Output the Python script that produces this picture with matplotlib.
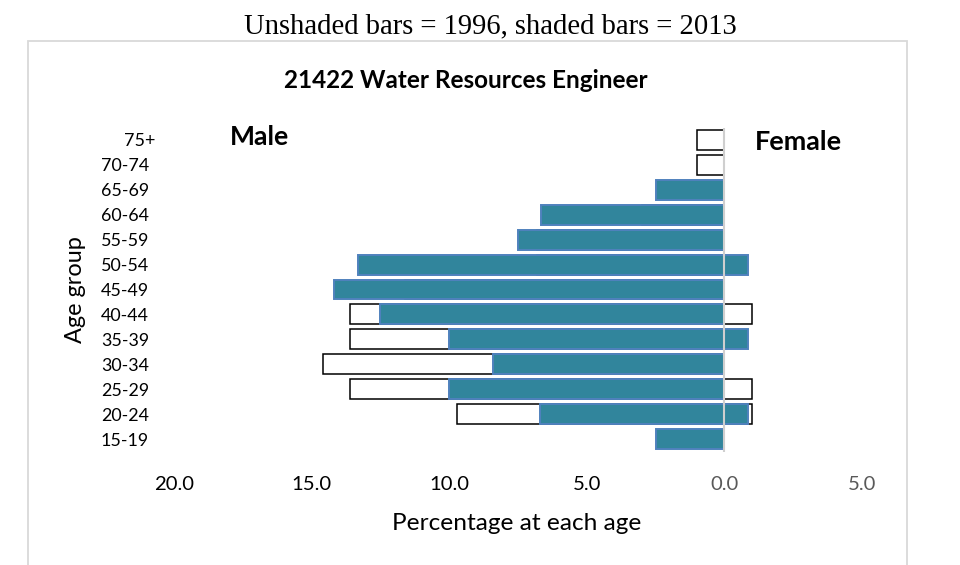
import matplotlib
matplotlib.use('Agg')
import matplotlib.pyplot as plt
import numpy as np
from matplotlib.patches import Rectangle
from matplotlib.transforms import ScaledTranslation

# ---------------- data ----------------
ages = ['15-19', '20-24', '25-29', '30-34', '35-39', '40-44', '45-49',
        '50-54', '55-59', '60-64', '65-69', '70-74', '75+']
male_1996 = [0, 9.7, 13.6, 14.6, 13.6, 13.6, 11.6, 6.8, 6.8, 3.0, 0, 1.0, 1.0]
female_1996 = [0, 1.0, 1.0, 0, 0, 1.0, 0, 0, 0, 0, 0, 0, 0]
male_2013 = [2.5, 6.7, 10.0, 8.4, 10.0, 12.5, 14.2, 13.3, 7.5, 6.65, 2.5, 0, 0]
female_2013 = [0, 0.87, 0, 0, 0.87, 0, 0, 0.87, 0, 0, 0, 0, 0]
xticks = [-20, -15, -10, -5, 0, 5]
xtick_labels = ['20.0', '15.0', '10.0', '5.0', '0.0', '5.0']

TEAL = '#31859C'
BLUE = '#4F81BD'
GRAY = '#595959'
SANS = ['Lato', 'DejaVu Sans']
SERIF = ['Liberation Serif', 'DejaVu Serif']
W, H = 960, 565

fig = plt.figure(figsize=(W / 100, H / 100), dpi=100)
ax = fig.add_axes([174 / W, 1 - 451.5 / H, 688 / W, 324 / H])

y = np.arange(len(ages))


def draw(vals, sign, **kw):
    v = np.array(vals, dtype=float)
    m = v > 0
    ax.barh(y[m], sign * v[m], height=0.8, **kw)


draw(male_1996, -1, color='white', edgecolor='black', linewidth=1.1, zorder=2)
draw(female_1996, 1, color='white', edgecolor='black', linewidth=1.1, zorder=2)
draw(male_2013, -1, color=TEAL, edgecolor=BLUE, linewidth=1.4, zorder=3)
draw(female_2013, 1, color=TEAL, edgecolor=BLUE, linewidth=1.4, zorder=3)
ax.axvline(0, color='#CFCFCF', linewidth=1.5, zorder=4)

ax.set_xlim(-20, 5)
ax.set_ylim(-0.5, 12.5)
for s in ax.spines.values():
    s.set_visible(False)
ax.set_xticks(xticks, xtick_labels)
ax.set_yticks(y, ages)
ax.tick_params(length=0)
for lab in ax.get_xticklabels() + ax.get_yticklabels():
    lab.set_family(SANS)
for lab in ax.get_xticklabels()[4:]:
    lab.set_color(GRAY)

# outer chart box
fig.patches.append(Rectangle((28 / W, -0.1), (907 - 28) / W, (H - 41) / H + 0.1,
                             transform=fig.transFigure, fill=False,
                             edgecolor='#D9D9D9', linewidth=1.3))

# texts
top = fig.text(490 / W, 1 - 26 / H, 'Unshaded bars = 1996, shaded bars = 2013',
               ha='center', va='center', family=SERIF, fontsize=14)
title = fig.text(466 / W, 1 - 80 / H, '21422 Water Resources Engineer',
                 ha='center', va='center', family=SANS, fontweight='bold', fontsize=13)
male = fig.text(260 / W, 1 - 137 / H, 'Male', ha='center', va='center',
                family=SANS, fontweight='bold', fontsize=14)
female = fig.text(798 / W, 1 - 142 / H, 'Female', ha='center', va='center',
                  family=SANS, fontweight='bold', fontsize=14)
xl = fig.text(517 / W, 1 - 523 / H, 'Percentage at each age', ha='center',
              va='center', family=SANS, fontsize=13)
yl = fig.text(75 / W, 1 - 290 / H, 'Age group', ha='center', va='center',
              rotation=90, family=SANS, fontsize=13)


def fit(t, target, use_h=False):
    for _ in range(3):
        fig.canvas.draw()
        bb = t.get_window_extent()
        cur = bb.height if use_h else bb.width
        t.set_fontsize(t.get_fontsize() * target / cur)


fit(top, 494)
fit(title, 363)
fit(male, 59)
fit(female, 87)
fit(xl, 249)
fit(yl, 107, use_h=True)

# tick label sizes
for _ in range(3):
    fig.canvas.draw()
    xt = ax.get_xticklabels()[0]
    w = xt.get_window_extent().width
    ax.tick_params(axis='x', labelsize=xt.get_fontsize() * 40 / w)
    yt = ax.get_yticklabels()[11]
    w = yt.get_window_extent().width
    ax.tick_params(axis='y', labelsize=yt.get_fontsize() * 48 / w)

# tick label pads
xpad, ypad = 10.0, 10.0
for _ in range(3):
    ax.tick_params(axis='x', pad=xpad)
    ax.tick_params(axis='y', pad=ypad)
    fig.canvas.draw()
    bb = ax.get_xticklabels()[0].get_window_extent()
    cy = (bb.y0 + bb.y1) / 2
    xpad += (cy - (H - 484)) * 72 / 100
    bb = ax.get_yticklabels()[5].get_window_extent()
    ypad += (bb.x1 - 149) * 72 / 100

lab75 = ax.get_yticklabels()[-1]
lab75.set_transform(lab75.get_transform() + ScaledTranslation(6 / 100, 0, fig.dpi_scale_trans))

fig.savefig('out.png', dpi=100)
